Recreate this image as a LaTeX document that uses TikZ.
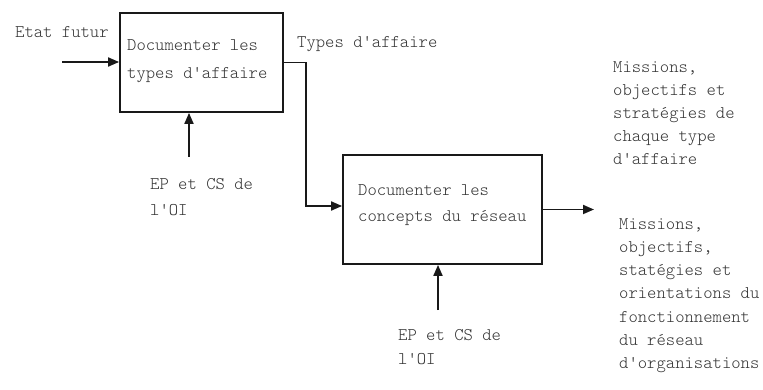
\documentclass[tikz,border=0pt]{standalone}
\usepackage{fontspec}
\usetikzlibrary{arrows.meta}
\begin{document}
\begin{tikzpicture}[x=1pt,y=-1pt,
  txt/.style={font=\ttfamily\fontseries{l}\fontsize{17.8}{23.3}\selectfont, text=black!80, inner sep=0pt, align=left, anchor=base west},
  boxshape/.style={draw=black!90, line width=1.8pt, inner sep=0pt},
  arr/.style={draw=black!90, line width=1.8pt, -{Triangle[length=11pt,width=9pt]}}]
\useasboundingbox (0,0) rectangle (763,390);
% boxes
\node[boxshape, minimum width=163pt, minimum height=99pt] (b1) at (201.5,62.5) {};
\node[boxshape, minimum width=199pt, minimum height=109pt] (b2) at (442.5,209.5) {};
% box texts (anchor = baseline of last line)
\node[txt, font=\ttfamily\fontseries{l}\fontsize{17.8}{27.5}\selectfont] (t1) at (127,78.5) {Documenter les\\types d'affaire};
\node[txt, font=\ttfamily\fontseries{l}\fontsize{17.8}{26.5}\selectfont] (t2) at (358,222) {Documenter les\\concepts du réseau};
% labels
\node[txt] (etat) at (15,37.5) {Etat futur};
\node[txt] (types) at (297,47.3) {Types d'affaire};
\node[txt, font=\ttfamily\fontseries{l}\fontsize{17.8}{25}\selectfont] (ep1) at (150,215) {EP et CS de\\l'OI};
\node[txt, font=\ttfamily\fontseries{l}\fontsize{17.8}{24}\selectfont] (ep2) at (398,364) {EP et CS de\\l'OI};
\node[txt, font=\ttfamily\fontseries{l}\fontsize{17.8}{23}\selectfont] (m1) at (613,165) {Missions,\\objectifs et\\stratégies de\\chaque type\\d'affaire};
\node[txt] (m2) at (619,368.8) {Missions,\\objectifs,\\statégies et\\orientations du\\fonctionnement\\du réseau\\d'organisations};
% connectors
\coordinate (in1) at (62,62);
\draw[arr] (in1) -- (in1 -| b1.west);
\draw[arr] (b1.east) -- ++(22,0) |- ([yshift=3.5pt]b2.west);
\coordinate (out2) at (594,209.5);
\draw[arr] (b2.east) -- (out2);
\coordinate (c1) at (189,157);
\draw[arr] (c1) -- (c1 |- b1.south);
\coordinate (c2) at (438,310);
\draw[arr] (c2) -- (c2 |- b2.south);
\end{tikzpicture}
\end{document}
